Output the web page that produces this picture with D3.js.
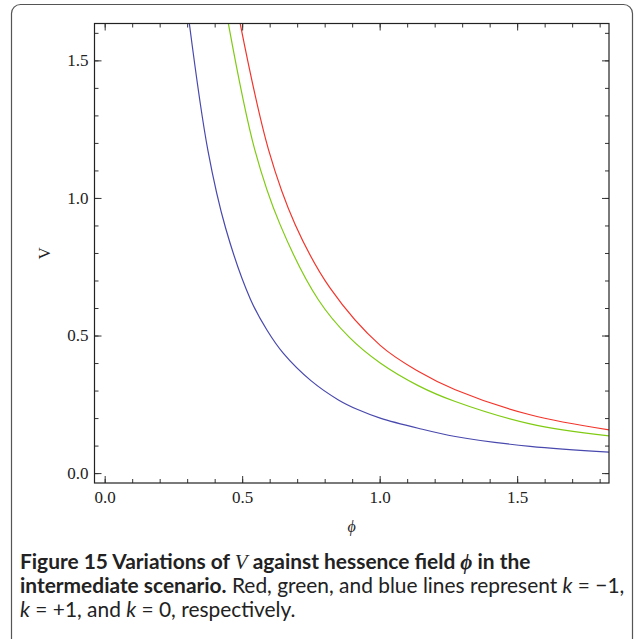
<!DOCTYPE html>
<html><head><meta charset="utf-8">
<script src="https://cdn.jsdelivr.net/npm/d3@7"></script>
<style>body{margin:0;background:#fff}svg{display:block}</style>
</head><body>
<script>
// Data: V against hessence field phi
const phiRed   = [0.493, 0.596, 0.693, 0.820, 1.002, 1.140, 1.275, 1.547, 1.835];
const vRed     = [1.633, 1.175, 0.903, 0.672, 0.464, 0.370, 0.303, 0.212, 0.157];
const phiGreen = [0.450, 0.546, 0.638, 0.777, 0.890, 1.002, 1.140, 1.275, 1.547, 1.835];
const vGreen   = [1.633, 1.175, 0.903, 0.630, 0.493, 0.400, 0.318, 0.260, 0.179, 0.135];
const phiBlue  = [0.308, 0.375, 0.440, 0.530, 0.590, 0.650, 0.750, 0.850, 0.920, 1.002, 1.140, 1.275, 1.547, 1.835];
const vBlue    = [1.633, 1.175, 0.890, 0.632, 0.520, 0.435, 0.336, 0.266, 0.231, 0.200, 0.163, 0.133, 0.097, 0.076];

const seriesNames  = ["k = -1", "k = +1", "k = 0"];
const seriesColors = ["#f2352b", "#7fcb12", "#4848ae"];

const xMajorTicks = [0.0, 0.5, 1.0, 1.5];
const xMinorTicks = [0.0,0.1,0.2,0.3,0.4,0.5,0.6,0.7,0.8,0.9,1.0,1.1,1.2,1.3,1.4,1.5,1.6,1.7,1.8];
const yMajorTicks = [0.0, 0.5, 1.0, 1.5];
const yMinorTicks = [0.0,0.1,0.2,0.3,0.4,0.5,0.6,0.7,0.8,0.9,1.0,1.1,1.2,1.3,1.4,1.5,1.6];

const W = 636, H = 639;
const svg = d3.select("body").append("svg").attr("width", W).attr("height", H);

// outer rounded box
svg.append("rect").attr("x", 11.5).attr("y", 4.5).attr("width", 621).attr("height", 700)
  .attr("rx", 9).attr("fill", "none").attr("stroke", "#555").attr("stroke-width", 1.2);

const L = 94.5, R = 609, T = 23.5, B = 483;
const x = d3.scaleLinear().domain([-0.037, 1.834]).range([L, R]);
const y = d3.scaleLinear().domain([-0.036, 1.634]).range([B, T]);

svg.append("defs").append("clipPath").attr("id", "clip")
  .append("rect").attr("x", L).attr("y", T).attr("width", R - L).attr("height", B - T);

const series = [
  {phi: phiRed, v: vRed},
  {phi: phiGreen, v: vGreen},
  {phi: phiBlue, v: vBlue}
];
const line = d3.line().x(d => x(d[0])).y(d => y(d[1])).curve(d3.curveCatmullRom.alpha(0.5));
const g = svg.append("g").attr("clip-path", "url(#clip)");
series.forEach((s, i) => {
  g.append("path").datum(s.phi.map((p, j) => [p, s.v[j]]))
    .attr("d", line).attr("fill", "none")
    .attr("stroke", seriesColors[i]).attr("stroke-width", 1.2);
});

const fmt = d3.format(".1f");
function styleAxis(sel) {
  sel.select(".domain").remove();
  sel.selectAll(".tick line").attr("stroke", "#333").attr("stroke-width", 1);
  sel.selectAll(".tick text").attr("font-family", "'Liberation Serif', 'DejaVu Serif', serif")
    .attr("font-size", 17).attr("fill", "#222");
}
// bottom
svg.append("g").attr("transform", `translate(0,${B})`)
  .call(d3.axisBottom(x).tickValues(xMinorTicks).tickSize(-4).tickFormat(""))
  .call(styleAxis);
svg.append("g").attr("transform", `translate(0,${B})`)
  .call(d3.axisBottom(x).tickValues(xMajorTicks).tickSize(-7).tickPadding(8).tickFormat(fmt))
  .call(styleAxis);
// top
svg.append("g").attr("transform", `translate(0,${T})`)
  .call(d3.axisTop(x).tickValues(xMinorTicks).tickSize(-4).tickFormat(""))
  .call(styleAxis);
svg.append("g").attr("transform", `translate(0,${T})`)
  .call(d3.axisTop(x).tickValues(xMajorTicks).tickSize(-7).tickFormat(""))
  .call(styleAxis);
// left
svg.append("g").attr("transform", `translate(${L},0)`)
  .call(d3.axisLeft(y).tickValues(yMinorTicks).tickSize(-4).tickFormat(""))
  .call(styleAxis);
svg.append("g").attr("transform", `translate(${L},0)`)
  .call(d3.axisLeft(y).tickValues(yMajorTicks).tickSize(-7).tickPadding(6).tickFormat(fmt))
  .call(styleAxis);
// right
svg.append("g").attr("transform", `translate(${R},0)`)
  .call(d3.axisRight(y).tickValues(yMinorTicks).tickSize(-4).tickFormat(""))
  .call(styleAxis);
svg.append("g").attr("transform", `translate(${R},0)`)
  .call(d3.axisRight(y).tickValues(yMajorTicks).tickSize(-7).tickFormat(""))
  .call(styleAxis);

// frame
svg.append("rect").attr("x", L).attr("y", T).attr("width", R - L).attr("height", B - T)
  .attr("fill", "none").attr("stroke", "#222").attr("stroke-width", 1.2);

// axis labels
svg.append("text").attr("x", (L + R) / 2).attr("y", 532).attr("text-anchor", "middle")
  .attr("font-family", "'Liberation Serif', 'DejaVu Serif', serif").attr("font-style", "italic")
  .attr("font-size", 16).attr("fill", "#222").text("ϕ");
svg.append("text").attr("transform", `translate(50,${(T + B) / 2}) rotate(-90)`)
  .attr("text-anchor", "middle")
  .attr("font-family", "'Liberation Serif', 'DejaVu Serif', serif")
  .attr("font-size", 17).attr("fill", "#222").text("V");

// caption
const capFont = "Lato, 'Open Sans', sans-serif";
const mathFont = "'Liberation Serif', 'DejaVu Serif', serif";
const captionLines = [
  [
    {t: "Figure 15 Variations of ", w: "bold"},
    {t: "V", w: "normal", s: "italic", f: mathFont},
    {t: " against hessence field ", w: "bold"},
    {t: "ϕ", w: "bold", s: "italic", f: mathFont},
    {t: " in the", w: "bold"}
  ],
  [
    {t: "intermediate scenario.", w: "bold"},
    {t: " Red, green, and blue lines represent ", w: "normal"},
    {t: "k", w: "normal", s: "italic"},
    {t: " = \u22121,", w: "normal"}
  ],
  [
    {t: "k", w: "normal", s: "italic"},
    {t: " = +1, and ", w: "normal"},
    {t: "k", w: "normal", s: "italic"},
    {t: " = 0, respectively.", w: "normal"}
  ]
];
const capY = [569, 593, 617];
const capTexts = captionLines.map((parts, i) => {
  const t = svg.append("text").attr("x", 20).attr("y", capY[i])
    .attr("font-family", capFont).attr("font-size", 18).attr("fill", "#222");
  parts.forEach(p => {
    t.append("tspan").attr("font-weight", p.w).attr("font-style", p.s || "normal")
      .attr("font-family", p.f || capFont).text(p.t);
  });
  return t;
});
// fit the first caption line to its width in the figure
const w1 = capTexts[0].node().getComputedTextLength();
const fs = 18 * 511 / w1;
capTexts.forEach(t => t.attr("font-size", fs));
</script>
</body></html>
